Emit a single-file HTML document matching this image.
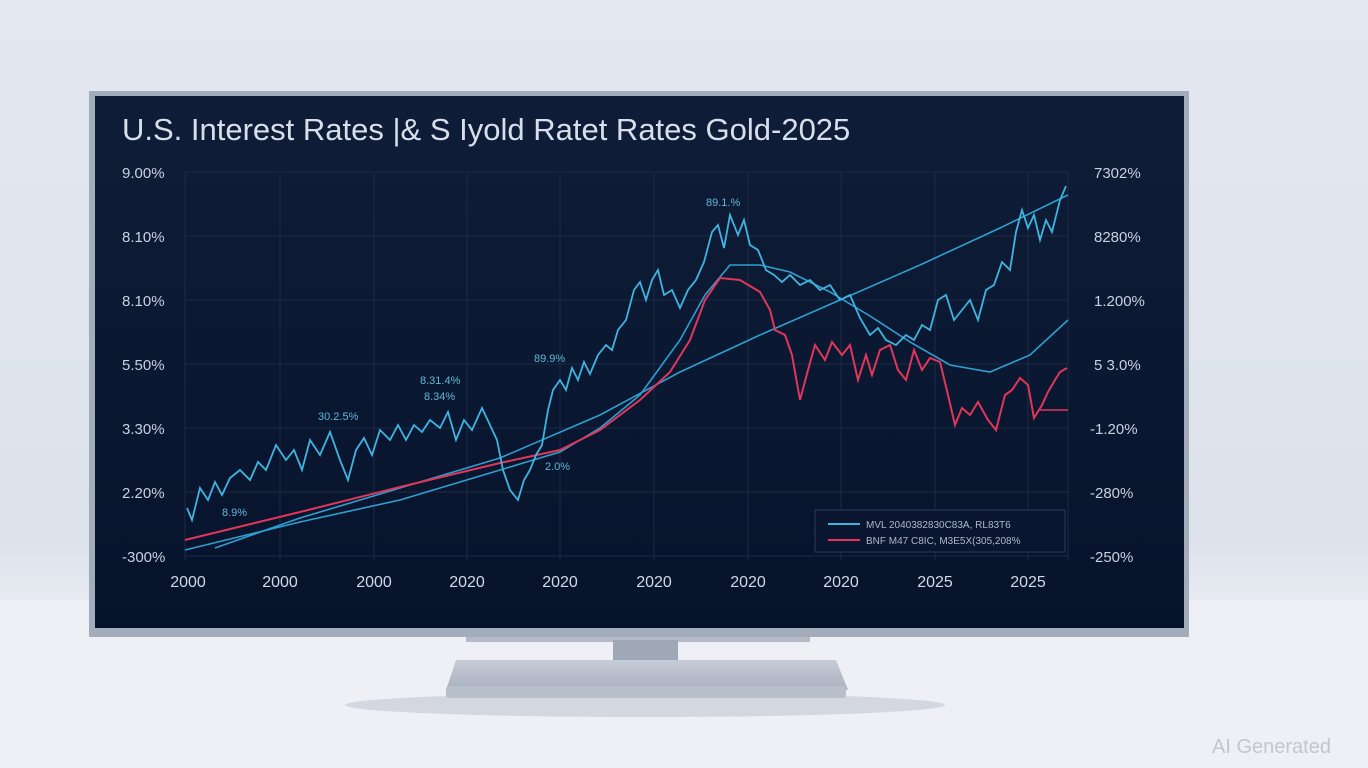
<!DOCTYPE html>
<html><head><meta charset="utf-8"><style>
html,body{margin:0;padding:0;width:1368px;height:768px;overflow:hidden;font-family:"Liberation Sans",sans-serif}
body{background:linear-gradient(180deg,#e4e8f0 0%,#dce2ec 70%,#e9ecf2 80%,#f1f3f7 100%)}
</style></head><body>
<svg width="1368" height="768" viewBox="0 0 1368 768" style="position:absolute;left:0;top:0">
<defs>
<linearGradient id="scr" x1="0" y1="0" x2="0" y2="1"><stop offset="0" stop-color="#0f1d38"/><stop offset="1" stop-color="#07132b"/></linearGradient>
<linearGradient id="base" x1="0" y1="0" x2="0" y2="1"><stop offset="0" stop-color="#c6cdd8"/><stop offset="1" stop-color="#a9b1be"/></linearGradient>
</defs>
<rect x="0" y="600" width="1368" height="168" fill="#eef0f5"/>
<ellipse cx="645" cy="705" rx="300" ry="12" fill="#d2d7e0"/>
<!-- stand -->
<rect x="466" y="628" width="344" height="14" fill="#b3bac6"/>
<rect x="613" y="640" width="65" height="45" fill="#9fa8b6"/>
<path d="M456 660 L836 660 L848 690 L446 690 Z" fill="url(#base)"/>
<rect x="446" y="686" width="400" height="12" rx="3" fill="#b8bfca"/>
<!-- monitor -->
<rect x="89" y="91" width="1100" height="546" fill="#a3acbb"/>
<rect x="95" y="96" width="1089" height="532" fill="url(#scr)"/>
<text x="122" y="140" font-size="31" fill="#d8deea">U.S. Interest Rates |&amp; S Iyold Ratet Rates Gold-2025</text>
<!-- grid -->
<g stroke="#1c2a48" stroke-width="1">
<line x1="185" y1="172" x2="1068" y2="172"/><line x1="185" y1="236" x2="1068" y2="236"/><line x1="185" y1="300" x2="1068" y2="300"/><line x1="185" y1="364" x2="1068" y2="364"/><line x1="185" y1="428" x2="1068" y2="428"/><line x1="185" y1="492" x2="1068" y2="492"/><line x1="185" y1="556" x2="1068" y2="556"/>
<line x1="185" y1="172" x2="185" y2="560"/><line x1="280" y1="172" x2="280" y2="560"/><line x1="374" y1="172" x2="374" y2="560"/><line x1="467" y1="172" x2="467" y2="560"/><line x1="560" y1="172" x2="560" y2="560"/><line x1="654" y1="172" x2="654" y2="560"/><line x1="748" y1="172" x2="748" y2="560"/><line x1="841" y1="172" x2="841" y2="560"/><line x1="935" y1="172" x2="935" y2="560"/><line x1="1028" y1="172" x2="1028" y2="560"/><line x1="1068" y1="172" x2="1068" y2="560"/>
</g>
<g font-size="15" fill="#c9d1df">
<text x="122" y="178">9.00%</text><text x="122" y="242">8.10%</text><text x="122" y="306">8.10%</text><text x="122" y="370">5.50%</text><text x="122" y="434">3.30%</text><text x="122" y="498">2.20%</text><text x="122" y="562">-300%</text>
<text x="1094" y="178">7302%</text><text x="1094" y="242">8280%</text><text x="1094" y="306">1.200%</text><text x="1094" y="370">5 3.0%</text><text x="1090" y="434">-1.20%</text><text x="1090" y="498">-280%</text><text x="1090" y="562">-250%</text>
</g>
<g font-size="16" fill="#d2d9e6" text-anchor="middle">
<text x="188" y="587">2000</text><text x="280" y="587">2000</text><text x="374" y="587">2000</text><text x="467" y="587">2020</text><text x="560" y="587">2020</text><text x="654" y="587">2020</text><text x="748" y="587">2020</text><text x="841" y="587">2020</text><text x="935" y="587">2025</text><text x="1028" y="587">2025</text>
</g>
<g font-size="11" fill="#5fb7d6">
<text x="706" y="206">89.1.%</text><text x="534" y="362">89.9%</text><text x="420" y="384">8.31.4%</text><text x="424" y="400">8.34%</text><text x="318" y="420">30.2.5%</text><text x="545" y="470">2.0%</text><text x="222" y="516">8.9%</text>
</g>
<!-- series -->
<polyline fill="none" stroke="#2f9fd0" stroke-width="1.6" points="215,548 300,518 400,488 500,458 600,415 680,372 760,335 840,300 920,265 1000,228 1068,195"/>
<polyline fill="none" stroke="#2f9fd0" stroke-width="1.6" points="185,550 300,522 400,500 500,470 560,452 600,428 640,395 680,340 705,295 730,265 760,265 790,272 830,292 870,316 910,342 950,365 990,372 1030,355 1068,320"/>
<polyline fill="none" stroke="#e0365a" stroke-width="2" points="185,540 300,512 400,487 500,463 560,450 600,430 640,400 670,372 690,340 705,300 720,278 740,280 760,292 770,310 775,330 785,335 792,355 800,400 808,370 815,345 825,360 832,342 842,355 850,345 858,380 866,355 872,375 880,350 890,345 898,370 906,380 914,350 922,370 930,358 940,362 948,395 955,425 962,408 970,415 978,402 988,420 996,430 1005,395 1012,390 1020,378 1028,385 1034,418 1042,405 1048,392 1055,380 1060,372 1067,368"/>
<line x1="1040" y1="410" x2="1068" y2="410" stroke="#e0365a" stroke-width="1.6"/>
<polyline fill="none" stroke="#3fb4e0" stroke-width="1.8" points="187,508 192,520 200,488 208,500 215,482 222,495 230,478 240,470 250,480 258,462 266,470 276,445 286,460 294,450 302,470 310,440 320,455 330,432 340,460 348,480 356,450 364,438 372,455 380,430 390,440 398,425 406,440 414,425 422,432 430,420 440,428 448,412 456,440 464,420 472,430 482,408 490,425 497,440 503,470 510,490 518,500 524,480 530,470 536,455 542,445 548,410 553,390 560,380 566,390 572,368 578,380 584,362 590,374 598,355 606,345 612,350 618,330 626,320 634,290 640,282 646,300 652,280 658,270 664,295 672,290 680,308 688,290 696,280 704,262 712,232 718,225 724,248 730,215 738,235 744,220 750,245 758,250 766,270 774,275 782,282 790,275 800,285 810,280 820,290 830,285 840,300 850,295 860,318 870,335 878,328 886,340 896,345 906,335 914,340 922,325 930,330 938,300 946,295 954,320 962,310 970,300 978,320 986,290 994,285 1002,262 1010,270 1016,232 1022,210 1028,228 1034,215 1040,240 1046,220 1052,232 1060,200 1066,186"/>
<!-- legend -->
<rect x="815" y="510" width="250" height="42" fill="#0a1630" stroke="#2a3a5a" stroke-width="1"/>
<line x1="828" y1="524" x2="860" y2="524" stroke="#3fb4e0" stroke-width="2"/>
<line x1="828" y1="540" x2="860" y2="540" stroke="#e0365a" stroke-width="2"/>
<text x="866" y="528" font-size="10" fill="#aeb8c8">MVL 2040382830C83A, RL83T6</text>
<text x="866" y="544" font-size="10" fill="#aeb8c8">BNF M47 C8IC, M3E5X(305,208%</text>
</svg>
<div style="position:absolute;left:1212px;top:736px;font-size:20px;color:#c2c6cd">AI Generated</div>
</body></html>
